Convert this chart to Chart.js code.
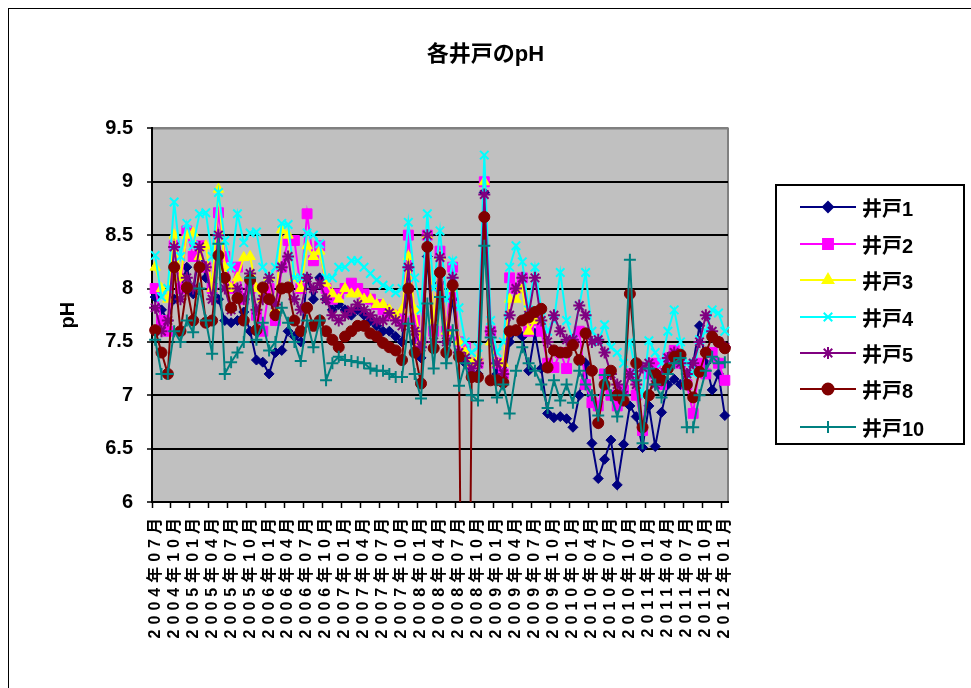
<!DOCTYPE html>
<html>
<head>
<meta charset="utf-8">
<script src="https://cdn.jsdelivr.net/npm/chart.js@4"></script>
<style>
  html, body { margin: 0; padding: 0; background: #fff; overflow: hidden; }
  #wrap { position: relative; width: 971px; height: 688px; }
  #frame { position: absolute; left: 8px; top: 8px; width: 1000px; height: 720px; border: 1px solid #000; }
  #c { position: absolute; left: 0; top: 0; }
  #legend { position: absolute; left: 775px; top: 184px; width: 186px; height: 257px; border: 2px solid #000; background: #fff; }
  .item { position: absolute; left: 0; height: 24px; display: flex; align-items: center; }
  .item canvas { margin-left: 23px; }
  .item span { font: bold 20px 'Liberation Sans', 'Noto Sans CJK JP', sans-serif; margin-left: 6px; color: #000; }
</style>
</head>
<body>
<div id="wrap">
  <div id="frame"></div>
  <canvas id="c" width="971" height="688"></canvas>
  <div id="legend"></div>
</div>
<script>
// Monthly sampling dates
const categories = [
  '2004年07月','2004年08月','2004年09月','2004年10月','2004年11月','2004年12月',
  '2005年01月','2005年02月','2005年03月','2005年04月','2005年05月','2005年06月',
  '2005年07月','2005年08月','2005年09月','2005年10月','2005年11月','2005年12月',
  '2006年01月','2006年02月','2006年03月','2006年04月','2006年05月','2006年06月',
  '2006年07月','2006年08月','2006年09月','2006年10月','2006年11月','2006年12月',
  '2007年01月','2007年02月','2007年03月','2007年04月','2007年05月','2007年06月',
  '2007年07月','2007年08月','2007年09月','2007年10月','2007年11月','2007年12月',
  '2008年01月','2008年02月','2008年03月','2008年04月','2008年05月','2008年06月',
  '2008年07月','2008年08月','2008年09月','2008年10月','2008年11月','2008年12月',
  '2009年01月','2009年02月','2009年03月','2009年04月','2009年05月','2009年06月',
  '2009年07月','2009年08月','2009年09月','2009年10月','2009年11月','2009年12月',
  '2010年01月','2010年02月','2010年03月','2010年04月','2010年05月','2010年06月',
  '2010年07月','2010年08月','2010年09月','2010年10月','2010年11月','2010年12月',
  '2011年01月','2011年02月','2011年03月','2011年04月','2011年05月','2011年06月',
  '2011年07月','2011年08月','2011年09月','2011年10月','2011年11月','2011年12月',
  '2012年01月'
];

// pH readings per well
const well1 = [
  7.92, 7.8, 7.7, 7.9, 8.0, 8.2, 7.95, 8.39, 8.1, 8.05,
  7.9, 7.7, 7.68, 7.7, 7.78, 7.6, 7.33, 7.31, 7.2, 7.4,
  7.42, 7.6, 7.55, 7.5, 8.1, 7.9, 8.1, 7.9, 7.8, 7.85,
  7.8, 7.75, 7.8, 7.75, 7.7, 7.65, 7.6, 7.6, 7.55, 7.5,
  8.2, 7.5, 7.35, 8.3, 7.45, 8.05, 7.5, 7.9, 7.4, 7.3,
  7.2, 7.2, 8.9, 7.5, 7.2, 7.1, 7.5, 7.6, 7.55, 7.23,
  7.58, 7.25, 6.83, 6.79, 6.8, 6.78, 6.7, 7.0, 7.3, 6.55,
  6.22, 6.4, 6.58, 6.16, 6.54, 6.9, 6.8, 6.51, 6.9, 6.52,
  6.84, 7.1, 7.15, 7.1, 7.2, 7.3, 7.65, 7.3, 7.05, 7.2, 6.81
];
const well2 = [
  8.0, 7.7, 7.6, 8.4, 8.0, 8.54, 8.3, 8.4, 8.2, 8.0,
  8.71, 8.3, 8.0, 8.2, 7.9, 8.0, 7.75, 7.6, 8.0, 7.7,
  8.2, 8.45, 8.45, 8.0, 8.7, 8.26, 8.4, 8.0, 7.9, 7.95,
  8.0, 8.05, 8.0, 7.95, 7.9, 7.85, 7.8, 7.75, 7.75, 7.7,
  8.5, 7.7, 7.5, 8.5, 7.6, 8.35, 7.6, 8.2, 7.5, 7.45,
  7.3, 7.3, 9.0, 7.6, 7.3, 7.2, 8.1, 8.0, 8.1, 7.6,
  7.7, 7.6, 7.3, 7.26, 7.4, 7.25, 7.5, 7.6, 7.1, 6.93,
  6.9, 7.2, 7.0, 6.9, 7.05, 7.2, 7.0, 6.67, 7.2, 7.3,
  7.1, 7.35, 7.42, 7.3, 7.1, 6.83, 7.3, 7.2, 7.4, 7.3, 7.14
];
const well3 = [
  8.2, 8.0, 7.9, 8.5, 8.1, 8.5, 8.52, 8.3, 8.4, 8.0,
  8.93, 8.2, 8.0, 8.1, 8.29, 8.3, 8.0, 7.9, 8.1, 7.8,
  8.55, 8.5, 8.1, 8.0, 8.4, 8.3, 8.35, 8.05, 7.95, 7.9,
  8.0, 7.95, 7.95, 7.9, 7.9, 7.85, 7.85, 7.8, 7.75, 7.8,
  8.3, 7.8, 7.5, 8.5, 7.7, 8.3, 7.6, 8.0, 7.5, 7.4,
  7.3, 7.35, 9.0, 7.5, 7.3, 7.3, 7.9, 7.9, 8.0, 7.6,
  7.7, null, null, null, null, null, null, null, null, null,
  null, null, null, null, null, null, null, null, null, null,
  null, null, null, null, null, null, null, null, null, null, null
];
const well4 = [
  8.31, 7.92, 8.0, 8.81, 8.3, 8.61, 8.4, 8.7, 8.71, 8.3,
  8.9, 8.45, 8.2, 8.7, 8.43, 8.52, 8.53, 8.2, 8.1, 8.2,
  8.61, 8.6, 8.1, 8.1, 8.52, 8.5, 8.42, 8.1, 8.1, 8.2,
  8.2, 8.26, 8.26, 8.2, 8.14, 8.08, 8.03, 8.0, 7.96, 8.0,
  8.62, 8.1, 7.8, 8.7, 8.0, 8.54, 7.9, 8.26, 7.82, 7.5,
  7.4, 7.45, 9.25, 7.7, 7.4, 7.5, 8.2, 8.4, 8.25, 7.8,
  8.2, 7.8, 7.6, 7.7, 8.15, 7.7, 7.52, 7.84, 8.15, 7.6,
  7.5, 7.66, 7.45, 7.4, 7.3, 7.5, 7.2, 7.0, 7.51, 7.4,
  7.3, 7.6, 7.8, 7.5, 7.3, 7.2, 7.52, 7.6, 7.8, 7.77, 7.6
];
const well5 = [
  7.82, 7.6, 7.7, 8.39, 7.9, 8.1, 8.0, 8.39, 8.2, 7.9,
  8.5, 8.0, 7.8, 8.0, 7.9, 8.14, 7.8, 7.9, 8.1, 7.85,
  8.2, 8.3, 7.9, 7.8, 8.1, 8.0, 8.05, 7.9, 7.75, 7.7,
  7.75, 7.8, 7.85, 7.8, 7.75, 7.7, 7.7, 7.77, 7.7, 7.65,
  8.2, 7.6, 7.45, 8.5, 7.5, 8.29, 7.5, 8.1, 7.4, 7.35,
  7.25, 7.3, 8.88, 7.6, 7.3, 7.2, 7.75, 8.0, 8.1, 7.75,
  8.1, 7.7, 7.5, 7.75, 7.6, 7.52, 7.52, 7.84, 7.75, 7.5,
  7.52, 7.4, 7.2, 7.1, 7.0, 7.2, 7.1, 7.26, 7.3, 7.1,
  7.2, 7.35, 7.4, 7.3, 7.2, 7.3, 7.5, 7.75, 7.6, 7.5, 7.45
];
const well8 = [
  7.61, 7.4, 7.2, 8.2, 7.6, 8.01, 7.7, 8.2, 7.68, 7.7,
  8.31, 8.1, 7.82, 7.91, 7.7, 8.08, 7.61, 8.01, 7.9, 7.75,
  8.0, 8.01, 7.7, 7.6, 7.82, 7.65, 7.7, 7.6, 7.52, 7.45,
  7.55, 7.6, 7.65, 7.65, 7.58, 7.55, 7.49, 7.45, 7.42, 7.33,
  8.0, 7.4, 7.11, 8.39, 7.44, 8.15, 7.4, 8.03, 7.36, 0,
  7.17, 7.17, 8.67, 7.14, 7.14, 7.12, 7.6, 7.61, 7.7, 7.73,
  7.78, 7.81, 7.26, 7.42, 7.4, 7.4, 7.47, 7.33, 7.58, 7.23,
  6.74, 7.1, 7.23, 7.0, 6.95, 7.95, 7.3, 6.7, 7.0, 7.2,
  7.14, 7.25, 7.36, 7.38, 7.1, 6.98, 7.22, 7.4, 7.55, 7.5, 7.44
];
const well10 = [
  7.52, 7.2, 7.2, 7.6, 7.5, 7.7, 7.59, 8.0, 7.7, 7.39,
  8.42, 7.2, 7.31, 7.4, 7.5, 8.1, 7.52, 7.68, 7.42, 7.5,
  7.82, 7.68, 7.5, 7.32, 7.7, 7.45, 7.7, 7.14, 7.3, 7.36,
  7.33, 7.32, 7.31, 7.3, 7.25, 7.23, 7.23, 7.2, 7.17, 7.17,
  7.67, 7.2, 6.97, 7.86, 7.25, 7.92, 7.3, 7.61, 7.09, 7.3,
  7.0, 6.95, 8.4, 7.54, 6.98, 7.1, 6.83, 7.23, 7.45, 7.3,
  7.23, 7.1, 6.88, 7.14, 6.95, 7.1, 6.93, 7.23, 7.1, 7.0,
  6.81, 7.19, 7.0, 6.8, 7.0, 8.27, 7.14, 6.55, 7.25, 7.1,
  6.98, 7.2, 7.3, 7.35, 6.7, 6.7, 7.0, 7.23, 7.36, 7.3, 7.31
];

const seriesNames = ['井戸1', '井戸2', '井戸3', '井戸4', '井戸5', '井戸8', '井戸10'];
const yTicks = [6, 6.5, 7, 7.5, 8, 8.5, 9, 9.5];

const FONT = "'Liberation Sans', 'Noto Sans CJK JP', sans-serif";

// Marker styling for each well
const styles = [
  { color: '#000080', pointStyle: 'rectRot',  radius: 5,   pbw: 1 },
  { color: '#FF00FF', pointStyle: 'rect',     radius: 7,   pbw: 1 },
  { color: '#FFFF00', pointStyle: 'triangle', radius: 6,   pbw: 1 },
  { color: '#00FFFF', pointStyle: 'crossRot', radius: 6,   pbw: 2 },
  { color: '#800080', pointStyle: 'star',     radius: 6,   pbw: 2 },
  { color: '#800000', pointStyle: 'circle',   radius: 5.5, pbw: 1 },
  { color: '#008080', pointStyle: 'cross',    radius: 6,   pbw: 2 }
];
const seriesData = [well1, well2, well3, well4, well5, well8, well10];

const datasets = seriesNames.map((name, i) => ({
  label: name,
  data: seriesData[i],
  yAxisID: 'y',
  borderColor: styles[i].color,
  backgroundColor: styles[i].color,
  pointBackgroundColor: styles[i].color,
  pointBorderColor: styles[i].color,
  pointStyle: styles[i].pointStyle,
  pointRadius: styles[i].radius,
  pointBorderWidth: styles[i].pbw,
  borderWidth: 2,
  tension: 0,
  spanGaps: false,
  order: seriesNames.length - i   // later wells are painted on top
}));

// Grey plot background and frame
const plotBackground = {
  id: 'plotBackground',
  beforeDraw(chart) {
    const { ctx, chartArea: a } = chart;
    ctx.save();
    ctx.fillStyle = '#C0C0C0';
    ctx.fillRect(a.left, a.top, a.right - a.left, a.bottom - a.top);
    ctx.strokeStyle = '#808080';
    ctx.lineWidth = 2;
    ctx.beginPath();
    ctx.moveTo(a.left, a.top);
    ctx.lineTo(a.right, a.top);
    ctx.lineTo(a.right, a.bottom);
    ctx.stroke();
    ctx.restore();
  }
};

// Wide spacing for the vertical date labels (drawn after the datasets)
const dateLabelSpacing = {
  id: 'dateLabelSpacing',
  afterDatasetsDraw(chart) { chart.ctx.letterSpacing = '5px'; },
  afterDraw(chart) { chart.ctx.letterSpacing = '0px'; }
};

new Chart(document.getElementById('c'), {
  type: 'line',
  data: { labels: categories, datasets },
  plugins: [plotBackground, dateLabelSpacing],
  options: {
    responsive: false,
    animation: false,
    events: [],
    layout: { padding: { left: 0, right: 0, top: 40, bottom: 26 } },
    plugins: {
      legend: { display: false },
      tooltip: { enabled: false },
      title: {
        display: true,
        text: '各井戸のpH',
        color: '#000',
        font: { family: FONT, size: 22, weight: 'bold' },
        padding: { top: 2, bottom: 60 }
      }
    },
    scales: {
      x: {
        type: 'category',
        offset: true,
        grid: {
          offset: true,
          drawOnChartArea: false,
          drawTicks: true,
          tickLength: 6,
          tickWidth: 1.5,
          color: c => (c.index !== undefined && c.index % 3 === 0) ? '#000' : 'rgba(0,0,0,0)',
          tickColor: c => (c.index !== undefined && c.index % 3 === 0) ? '#000' : 'rgba(0,0,0,0)'
        },
        border: { display: true, color: '#000', width: 2 },
        ticks: {
          autoSkip: false,
          minRotation: 90,
          maxRotation: 90,
          padding: 5,
          z: 1,
          color: '#000',
          font: { family: FONT, size: 16, weight: 'bold' },
          callback: function (v, i) { return i % 3 === 0 ? this.getLabelForValue(v) : ''; }
        },
        afterFit: s => { s.height = 160; }
      },
      y: {
        position: 'left',
        min: yTicks[0],
        max: yTicks[yTicks.length - 1],
        afterBuildTicks: s => { s.ticks = yTicks.map(v => ({ value: v })); },
        grid: {
          color: c => (c.tick && c.tick.value === 9.5) ? '#808080' : '#000',
          lineWidth: 2,
          drawTicks: true,
          tickLength: 5,
          tickColor: '#000',
          tickWidth: 1.5
        },
        border: { display: true, color: '#000', width: 2 },
        ticks: {
          padding: 14,
          color: '#000',
          font: { family: FONT, size: 20, weight: 'bold' },
          callback: v => String(v)
        },
        title: {
          display: true,
          text: 'pH',
          color: '#000',
          font: { family: FONT, size: 20, weight: 'bold' },
          padding: { top: 56, bottom: 0 }
        },
        afterFit: s => { s.width = 152; }
      },
      // empty band on the right that leaves room for the legend box
      legendSpace: {
        type: 'linear',
        position: 'right',
        display: true,
        grid: { display: false, drawTicks: false },
        border: { display: false },
        ticks: { display: false },
        afterFit: s => { s.width = 243; }
      }
    }
  }
});

// Legend box
const legend = document.getElementById('legend');
const rowTops = [9, 46, 82, 119, 155, 191, 229];
seriesNames.forEach((name, i) => {
  const row = document.createElement('div');
  row.className = 'item';
  row.style.top = rowTops[i] + 'px';
  const cv = document.createElement('canvas');
  cv.width = 56; cv.height = 24;
  const g = cv.getContext('2d');
  g.strokeStyle = styles[i].color;
  g.fillStyle = styles[i].color;
  g.lineWidth = 2;
  g.beginPath(); g.moveTo(0, 12); g.lineTo(56, 12); g.stroke();
  Chart.helpers.drawPoint(g, {
    pointStyle: styles[i].pointStyle,
    radius: styles[i].radius,
    rotation: 0,
    borderWidth: styles[i].pbw
  }, 28, 12);
  const sp = document.createElement('span');
  sp.textContent = name;
  row.appendChild(cv);
  row.appendChild(sp);
  legend.appendChild(row);
});
</script>
</body>
</html>
